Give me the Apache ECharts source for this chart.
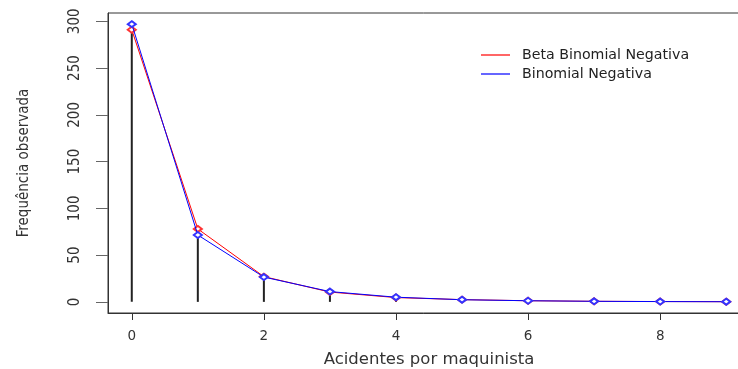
<!DOCTYPE html>
<html><head><meta charset="utf-8">
<script src="https://cdn.jsdelivr.net/npm/echarts@6/dist/echarts.min.js"></script>
<style>html,body{margin:0;padding:0;background:#fff}#c{width:738px;height:369px}</style>
</head><body><div id="c"></div>
<script>
var categories = [0, 1, 2, 3, 4, 5, 6, 7, 8, 9];
var observed = [296, 74, 26, 8, 4, 4, 1, 0, 1, 0];
var betaBinNeg = [291, 78, 27, 10.5, 4.6, 2.4, 1.2, 0.6, 0.35, 0.2];
var binNeg = [297, 71.5, 26.5, 11, 5, 2.3, 1.2, 0.6, 0.3, 0.15];
var xTicks = [0, 2, 4, 6, 8];
var yTicks = [0, 50, 100, 150, 200, 250, 300];
var seriesNames = ['Beta Binomial Negativa', 'Binomial Negativa'];

function pairs(v){ return categories.map(function(c,i){ return [c, v[i]]; }); }

var narrow = '"Liberation Sans Narrow", "DejaVu Sans Condensed", "Liberation Sans", sans-serif';
var chart = echarts.init(document.getElementById('c'));
chart.setOption({
  animation: false,
  grid: {left: 108, top: 13, right: -12, bottom: 56, outerBoundsMode: 'none', containLabel: false,
         show: true, borderColor: '#333', borderWidth: 1, backgroundColor: 'transparent'},
  legend: {
    orient: 'vertical', left: 476, top: 43, itemWidth: 29, itemHeight: 1.5, itemGap: 5,
    icon: 'rect',
    textStyle: {fontFamily: 'DejaVu Sans', fontSize: 14.2, color: '#222', lineHeight: 14, padding: [0,0,0,7]},
    data: seriesNames
  },
  xAxis: {
    type: 'value', min: -0.36, max: 9.36,
    axisLine: {show: true, onZero: false, lineStyle: {color: '#333'}},
    axisTick: {show: true, length: 7, customValues: xTicks, lineStyle: {color: '#333'}},
    axisLabel: {customValues: xTicks, margin: 16, fontFamily: 'DejaVu Sans', fontSize: 13.5, color: '#333'},
    splitLine: {show: false},
    name: 'Acidentes por maquinista', nameLocation: 'middle', nameGap: 38,
    nameTextStyle: {fontFamily: 'DejaVu Sans', fontSize: 16.5, color: '#333'}
  },
  yAxis: {
    type: 'value', min: -11.9, max: 308.9,
    axisLine: {show: true, onZero: false, lineStyle: {color: '#333'}},
    axisTick: {show: true, length: 12, customValues: yTicks, lineStyle: {color: '#666'}},
    axisLabel: {customValues: yTicks, rotate: 90, margin: 25, fontFamily: narrow, fontSize: 15, color: '#333'},
    splitLine: {show: false},
    name: 'Frequência observada', nameLocation: 'middle', nameGap: 76, nameRotate: 90,
    nameTextStyle: {fontFamily: narrow, fontSize: 15, color: '#333'}
  },
  series: [
    {type: 'bar', name: 'obs', data: pairs(observed), barWidth: 2, itemStyle: {color: '#222'}, z: 1, silent: true},
    {type: 'line', name: seriesNames[0], data: pairs(betaBinNeg), color: '#ff0000',
     lineStyle: {width: 1, color: '#ff0000'}, symbol: 'emptyDiamond', symbolSize: [8, 6],
     itemStyle: {color: '#ff3333', borderWidth: 0.8}, z: 2},
    {type: 'line', name: seriesNames[1], data: pairs(binNeg), color: '#0000ff',
     lineStyle: {width: 1, color: '#0000ff'}, symbol: 'emptyDiamond', symbolSize: [8, 6],
     itemStyle: {color: '#3333ff', borderWidth: 0.8}, z: 3}
  ]
});
</script></body></html>
